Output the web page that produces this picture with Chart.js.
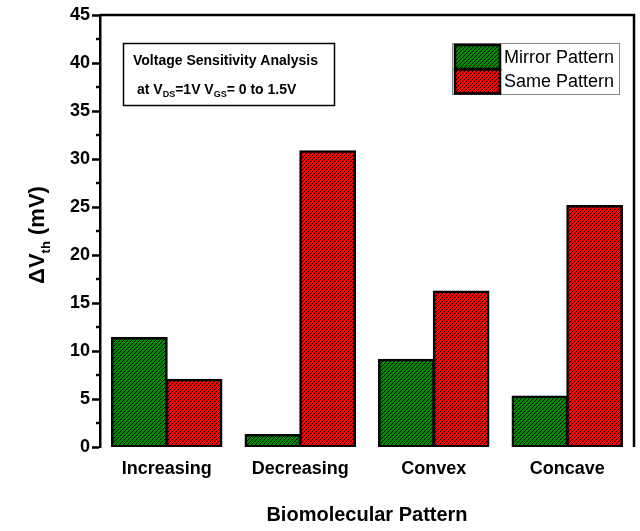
<!DOCTYPE html>
<html>
<head>
<meta charset="utf-8">
<script src="https://cdn.jsdelivr.net/npm/chart.js@4/dist/chart.umd.min.js"></script>
<style>
  html, body { margin: 0; padding: 0; background: #fff; }
  #wrap { width: 640px; height: 531px; }
</style>
</head>
<body>
<div id="wrap"><canvas id="c" width="640" height="531"></canvas></div>
<script>
const categories = ['Increasing', 'Decreasing', 'Convex', 'Concave'];
const mirrorPattern = [11.35, 1.25, 9.1, 5.25];
const samePattern = [7.0, 30.8, 16.2, 25.1];
const seriesNames = ['Mirror Pattern', 'Same Pattern'];
const yMajorTicks = [0, 5, 10, 15, 20, 25, 30, 35, 40, 45];
const yMinorTicks = [2.5, 7.5, 12.5, 17.5, 22.5, 27.5, 32.5, 37.5, 42.5];

const FONT = '"Liberation Sans", Arial, Helvetica, sans-serif';

// Diagonal black hatch over a solid fill
function hatch(color) {
  const s = 4;
  const t = document.createElement('canvas');
  t.width = s; t.height = s;
  const g = t.getContext('2d');
  g.fillStyle = color;
  g.fillRect(0, 0, s, s);
  g.strokeStyle = '#000';
  g.lineWidth = 0.9;
  g.beginPath();
  g.moveTo(-1, s + 1); g.lineTo(s + 1, -1);
  g.moveTo(-1, 1); g.lineTo(1, -1);
  g.moveTo(s - 1, s + 1); g.lineTo(s + 1, s - 1);
  g.stroke();
  return document.getElementById('c').getContext('2d').createPattern(t, 'repeat');
}

const greenFill = hatch('#008a00');
const redFill = hatch('#ff0000');

// Frame, minor ticks, axis titles, annotation box and legend
const decor = {
  id: 'decor',
  afterDraw(chart) {
    const ctx = chart.ctx;
    const a = chart.chartArea;
    const y = chart.scales.y;
    ctx.save();
    ctx.strokeStyle = '#000';
    ctx.lineWidth = 2.5;
    ctx.beginPath();
    ctx.moveTo(a.left, a.top);
    ctx.lineTo(a.right, a.top);
    ctx.lineTo(a.right, y.getPixelForValue(0));
    ctx.stroke();

    // minor ticks
    ctx.lineWidth = 2.5;
    yMinorTicks.forEach(v => {
      const py = y.getPixelForValue(v);
      ctx.beginPath();
      ctx.moveTo(a.left - 4, py);
      ctx.lineTo(a.left, py);
      ctx.stroke();
    });

    // y title with subscript
    ctx.fillStyle = '#000';
    ctx.translate(36, (a.top + y.getPixelForValue(0)) / 2 + 4);
    ctx.rotate(-Math.PI / 2);
    ctx.textBaseline = 'alphabetic';
    ctx.textAlign = 'left';
    const p1 = '\u0394V', p2 = 'th', p3 = ' (mV)';
    ctx.font = 'bold 22px ' + FONT;
    const w1 = ctx.measureText(p1).width;
    const w3 = ctx.measureText(p3).width;
    ctx.font = 'bold 13px ' + FONT;
    const w2 = ctx.measureText(p2).width;
    const sx = -(w1 + w2 + w3) / 2;
    ctx.font = 'bold 22px ' + FONT;
    ctx.fillText(p1, sx, 8);
    ctx.font = 'bold 13px ' + FONT;
    ctx.fillText(p2, sx + w1, 14);
    ctx.font = 'bold 22px ' + FONT;
    ctx.fillText(p3, sx + w1 + w2, 8);
    ctx.setTransform(1, 0, 0, 1, 0, 0);

    // x title
    ctx.font = 'bold 20px ' + FONT;
    ctx.textAlign = 'center';
    ctx.fillText('Biomolecular Pattern', (a.left + a.right) / 2, 521);

    // annotation box
    ctx.lineWidth = 1.5;
    ctx.strokeRect(123.5, 43.5, 211, 62);
    ctx.textAlign = 'left';
    ctx.font = 'bold 14px ' + FONT;
    ctx.fillText('Voltage Sensitivity Analysis', 133, 65);
    let tx = 137;
    const seg = (t, size, dy) => {
      ctx.font = 'bold ' + size + 'px ' + FONT;
      ctx.fillText(t, tx, 94 + dy);
      tx += ctx.measureText(t).width;
    };
    seg('at V', 14, 0); seg('DS', 9, 3); seg('=1V V', 14, 0); seg('GS', 9, 3); seg('= 0 to 1.5V', 14, 0);

    // legend
    ctx.strokeStyle = '#888';
    ctx.lineWidth = 1;
    ctx.strokeRect(452.5, 43.5, 167, 51);
    const fills = [greenFill, redFill];
    ctx.strokeStyle = '#000';
    ctx.lineWidth = 2.5;
    for (let i = 0; i < 2; i++) {
      const ry = 45 + i * 24.5;
      ctx.fillStyle = fills[i];
      ctx.fillRect(455, ry, 45, 24);
      ctx.strokeRect(455, ry, 45, 24);
      ctx.fillStyle = '#000';
      ctx.font = '18px ' + FONT;
      ctx.textBaseline = 'middle';
      ctx.fillText(seriesNames[i], 504, ry + 13);
    }
    ctx.restore();
  }
};

new Chart(document.getElementById('c'), {
  type: 'bar',
  data: {
    labels: categories,
    datasets: [
      { label: seriesNames[0], data: mirrorPattern, backgroundColor: greenFill,
        borderColor: '#000', borderWidth: 2.5, borderSkipped: false, inflateAmount: 1 },
      { label: seriesNames[1], data: samePattern, backgroundColor: redFill,
        borderColor: '#000', borderWidth: 2.5, borderSkipped: false, inflateAmount: 1 }
    ]
  },
  options: {
    responsive: false,
    animation: false,
    layout: { padding: { left: 0, top: 15, right: 6, bottom: 0 } },
    datasets: { bar: { categoryPercentage: 0.82, barPercentage: 1.0 } },
    plugins: { legend: { display: false }, tooltip: { enabled: false } },
    scales: {
      x: {
        grid: { display: false },
        border: { display: false },
        ticks: { color: '#000', font: { family: FONT, size: 18, weight: 'bold' }, padding: 3 },
        afterFit(s) { s.height = 84; }
      },
      y: {
        min: 0, max: 45,
        afterBuildTicks(s) { s.ticks = yMajorTicks.map(v => ({ value: v })); },
        grid: { display: true, drawOnChartArea: false, tickLength: 8, color: '#000', tickWidth: 2.5 },
        border: { display: true, color: '#000', width: 2.5 },
        ticks: { color: '#000', font: { family: FONT, size: 18, weight: 'bold' }, padding: 2 },
        afterFit(s) { s.width = 100; }
      }
    }
  },
  plugins: [decor]
});
</script>
</body>
</html>
